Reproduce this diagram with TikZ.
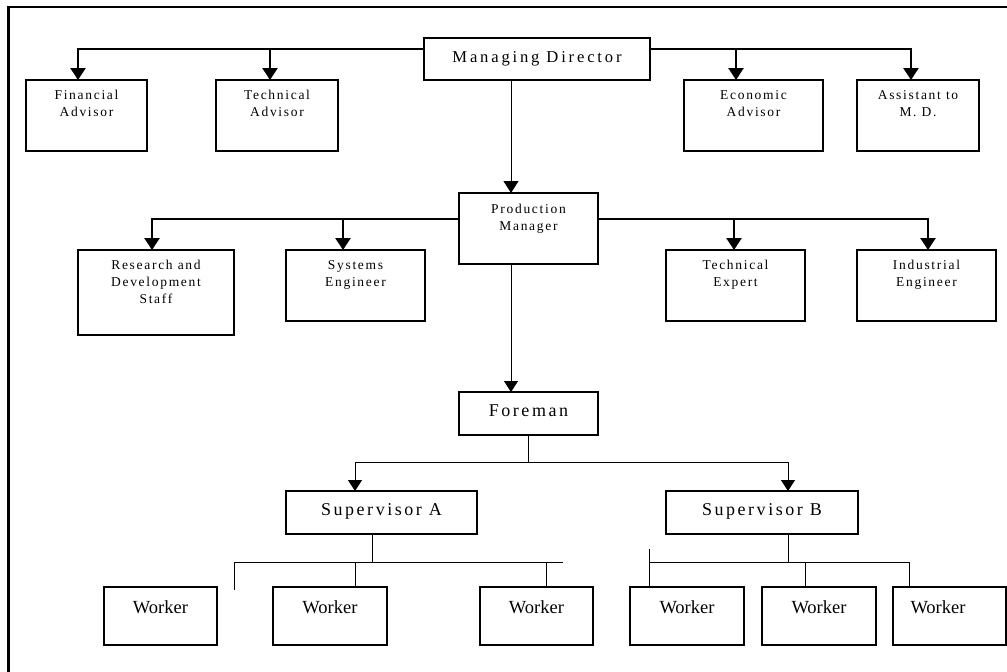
\documentclass[tikz,border=0pt]{standalone}
\usepackage{fontspec}
\setmainfont{Liberation Serif}
\newfontfamily\plainserif{Liberation Serif}
\newfontfamily\smallspaced[LetterSpace=12.6]{Liberation Serif}
\newfontfamily\bigspaced[LetterSpace=14]{Liberation Serif}
\newfontfamily\topspaced[LetterSpace=17]{Liberation Serif}
\usetikzlibrary{arrows.meta,calc}

% box contents: width, height, first baseline below the top edge, text
\newcommand{\boxtext}[4]{\parbox[t][#2][t]{#1}{\centering\rule{0pt}{#3}#4\par}}

\tikzset{
  orgbox/.style={draw, line width=1.1pt, inner sep=0pt, outer sep=0pt, anchor=north west},
  bus/.style={line width=2.5pt},
  link/.style={line width=1pt},
  bigtip/.style={-{Triangle[width=15pt,length=12pt]}},
  smalltip/.style={-{Triangle[width=14pt,length=11pt]}},
  smalltxt/.style={font=\smallspaced\fontsize{13.5}{17}\selectfont},
  bigtxt/.style={font=\bigspaced\fontsize{18}{22}\selectfont},
  toptxt/.style={font=\topspaced\fontsize{16.6}{20}\selectfont},
  workertxt/.style={font=\plainserif\fontsize{18.5}{22}\selectfont},
}

\begin{document}
\begin{tikzpicture}[x=1pt,y=-1pt]
\useasboundingbox (0,0) rectangle (1007,672);

% page frame
\draw[line width=2.4pt] (8.5,672) -- (8.5,7) -- (1007,7);

% top level
\node[orgbox, toptxt] (md) at (424,38) {\boxtext{226pt}{42pt}{24pt}{Managing Director}};
\node[orgbox, smalltxt] (fa) at (26,80) {\boxtext{121pt}{71pt}{19pt}{Financial\\Advisor}};
\node[orgbox, smalltxt] (ta) at (216,80) {\boxtext{122pt}{71pt}{19pt}{Technical\\Advisor}};
\node[orgbox, smalltxt] (ea) at (684,80) {\boxtext{139pt}{71pt}{19pt}{Economic\\Advisor}};
\node[orgbox, smalltxt] (amd) at (857,80) {\boxtext{122pt}{71pt}{19pt}{Assistant to\\M. D.}};

% production level
\node[orgbox, smalltxt] (pm) at (459,193) {\boxtext{139pt}{71pt}{20pt}{Production\\Manager}};
\node[orgbox, smalltxt] (rd) at (78,250) {\boxtext{156pt}{85pt}{19pt}{Research and\\Development\\Staff}};
\node[orgbox, smalltxt] (se) at (286,250) {\boxtext{139pt}{71pt}{19pt}{Systems\\Engineer}};
\node[orgbox, smalltxt] (te) at (666,250) {\boxtext{139pt}{71pt}{19pt}{Technical\\Expert}};
\node[orgbox, smalltxt] (ie) at (857,250) {\boxtext{139pt}{71pt}{19pt}{Industrial\\Engineer}};

% shop floor
\node[orgbox, bigtxt] (fm) at (459,392) {\boxtext{139pt}{43pt}{24.7pt}{Foreman}};
\node[orgbox, bigtxt] (sa) at (286,491) {\boxtext{191pt}{43pt}{24.7pt}{Supervisor A}};
\node[orgbox, bigtxt] (sb) at (666,491) {\boxtext{192pt}{43pt}{24.7pt}{Supervisor B}};

\node[orgbox, workertxt] (w1) at (104,587) {\boxtext{113pt}{58pt}{26pt}{Worker}};
\node[orgbox, workertxt] (w2) at (273,587) {\boxtext{114pt}{58pt}{26pt}{Worker}};
\node[orgbox, workertxt] (w3) at (480,587) {\boxtext{113pt}{58pt}{26pt}{Worker}};
\node[orgbox, workertxt] (w4) at (630,587) {\boxtext{114pt}{58pt}{26pt}{Worker}};
\node[orgbox, workertxt] (w5) at (762,587) {\boxtext{114pt}{58pt}{26pt}{Worker}};
\node[orgbox, workertxt] (w6) at (893,587) {\boxtext{113pt}{58pt}{26pt}{\hspace*{-23pt}Worker}};

% advisors to the managing director
\coordinate (mdbus) at ([yshift=-11pt]md.north west);
\coordinate (fadrop) at ($(fa.north)+(-8.5,0)$);
\coordinate (tadrop) at ($(ta.north)+(-7,0)$);
\coordinate (eadrop) at ($(ea.north)+(-17.5,0)$);
\coordinate (amddrop) at ($(amd.north)+(-7,0)$);
\draw[bus, bigtip] (mdbus) -| (fadrop);
\draw[bus, bigtip] (tadrop |- mdbus) -- (tadrop);
\draw[bus, bigtip] (md.east |- mdbus) -| (amddrop);
\draw[bus, bigtip] (eadrop |- mdbus) -- (eadrop);

% managing director to production manager to foreman
\draw[link, bigtip] ($(md.south)+(-26,0)$) -- ($(pm.north)+(-17.5,0)$);
\draw[link, smalltip] ($(pm.south)+(-17.5,0)$) -- ($(fm.north)+(-17.5,0)$);

% staff of the production manager
\coordinate (pmbus) at ([yshift=-26pt]pm.north west);
\coordinate (rddrop) at ($(rd.north)+(-4,0)$);
\coordinate (sedrop) at ($(se.north)+(-12.5,0)$);
\coordinate (tedrop) at ($(te.north)+(-1.5,0)$);
\coordinate (iedrop) at ($(ie.north)+(1.5,0)$);
\draw[bus, bigtip] (pmbus) -| (rddrop);
\draw[bus, bigtip] (sedrop |- pmbus) -- (sedrop);
\draw[bus, bigtip] (pm.east |- pmbus) -| (iedrop);
\draw[bus, bigtip] (tedrop |- pmbus) -- (tedrop);

% foreman to supervisors
\coordinate (fmbus) at ($(fm.south)+(0,27)$);
\draw[link] (fm.south) -- (fmbus);
\draw[link, smalltip] (fmbus) -| ($(sa.north)+(-26.5,0)$);
\draw[link, smalltip] (fmbus) -| ($(sb.north)+(26,0)$);

% supervisor A to workers
\coordinate (sabus) at ($(sa.south)+(-9.5,28)$);
\coordinate (saL) at (234,562);
\coordinate (saLend) at (234,590);
\coordinate (saR) at (563,562);
\coordinate (w2top) at ($(w2.north)+(25,0)$);
\coordinate (w3top) at ($(w3.north)+(9.5,0)$);
\draw[link] ($(sa.south)+(-9.5,0)$) -- (sabus);
\draw[link] (saLend) -- (saL) -- (saR);
\draw[link] (w2top |- sabus) -- (w2top);
\draw[link] (w3top |- sabus) -- (w3top);

% supervisor B to workers
\coordinate (sbbus) at ($(sb.south)+(26,28)$);
\coordinate (sbstub) at (649,549);
\coordinate (w4top) at ($(w4.north)+(-38,0)$);
\coordinate (w5top) at ($(w5.north)+(-14,0)$);
\coordinate (w6top) at ($(w6.north)+(-40.5,0)$);
\draw[link] ($(sb.south)+(26,0)$) -- (sbbus);
\draw[link] (sbstub) -- (w4top);
\draw[link] (w4top |- sbbus) -- (w6top |- sbbus) -- (w6top);
\draw[link] (w5top |- sbbus) -- (w5top);
\end{tikzpicture}
\end{document}
